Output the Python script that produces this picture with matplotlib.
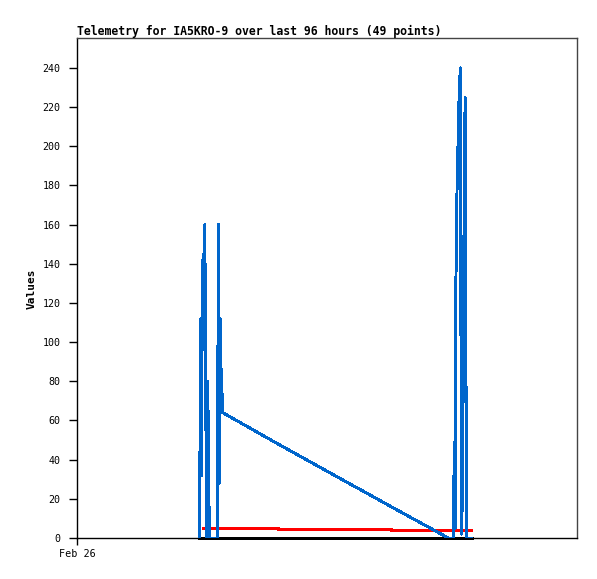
import matplotlib
matplotlib.use("Agg")
import matplotlib.pyplot as plt

# hours since Feb 26 00:00
blue_t = [23.5, 23.62, 23.78, 23.92, 24.06, 24.25, 24.4, 24.54, 24.88, 25.08,
          25.25, 25.4, 26.9, 27.03, 27.19, 27.32, 27.48, 27.63, 27.99, 38.6,
          60.3, 71.29,
          72.3, 72.42, 72.6, 72.76, 72.96, 73.18, 73.38, 73.6, 73.7, 73.86,
          74.06, 74.2, 74.38, 74.52, 74.62, 74.86, 75.7]
blue_v = [0, 48, 112, 32, 136, 145, 96, 160, 0, 80,
          48, 0, 0, 80, 160, 28, 112, 88, 64, 48,
          16, 0,
          0, 49, 5, 133, 177, 204, 228, 240, 120, 2,
          37, 115, 187, 225, 112, 0, 0]

red_t = [24.25, 38.6, 38.7, 60.3, 60.4, 75.8]
red_v = [5.0, 5.0, 4.5, 4.5, 4.0, 4.0]

black_t = [23.45, 75.85]
black_v = [0, 0]

y_ticks = list(range(0, 241, 20))
x_ticks = [0]
x_labels = ["Feb 26"]

W, H = 597, 579
fig = plt.figure(figsize=(W / 100, H / 100), dpi=100)
ax = fig.add_axes([77 / W, (H - 538) / H, 500 / W, 500 / H])

ax.plot(red_t, red_v, color="#ff0000", lw=1.5, zorder=2, antialiased=False)
ax.plot(black_t, black_v, color="#000000", lw=1.0, zorder=2, clip_on=False,
        antialiased=False)
ax.plot(blue_t, blue_v, color="#0066cc", lw=1.4, zorder=3, antialiased=False)

ax.set_xlim(0, 96)
ax.set_ylim(0, 255.3)

mono = "DejaVu Sans Mono"
ax.set_yticks(y_ticks)
ax.set_yticklabels([str(v) for v in y_ticks], family=mono, fontsize=7.2)
ax.set_xticks(x_ticks)
ax.set_xticklabels(x_labels, family=mono, fontsize=7.3)
ax.tick_params(axis="y", direction="out", length=6, width=1, pad=6)
ax.tick_params(axis="x", direction="out", length=5, width=1, pad=3)

for s in ("left", "bottom"):
    ax.spines[s].set_color("black")
    ax.spines[s].set_linewidth(1)
for s in ("top", "right"):
    ax.spines[s].set_color("#444444")
    ax.spines[s].set_linewidth(1)

fig.text(77 / W, 1 - 31 / H, "Telemetry for IA5KRO-9 over last 96 hours (49 points)",
         family=mono, fontweight="bold", fontsize=8.3, ha="left", va="center")
fig.text(32 / W, 1 - 289 / H, "Values", family=mono, fontweight="bold",
         fontsize=8, rotation=90, ha="center", va="center")

fig.savefig("out.png", dpi=100)
